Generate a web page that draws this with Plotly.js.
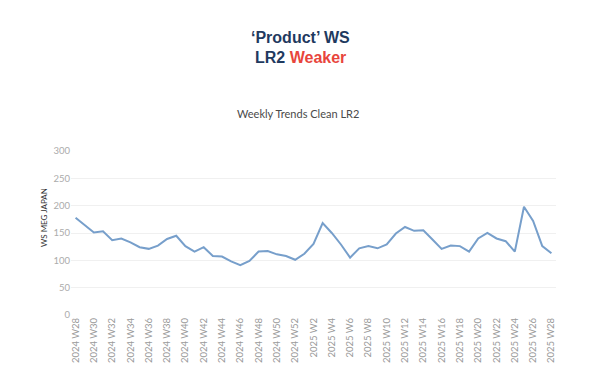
<!DOCTYPE html>
<html>
<head>
<meta charset="utf-8">
<script src="https://cdn.plot.ly/plotly-3.0.1.min.js"></script>
<style>html,body{margin:0;padding:0;background:#fff;}#chart{width:594px;height:386px;}</style>
</head>
<body>
<div id="chart"></div>
<script>
const weeks = [
  "2024 W28","2024 W29","2024 W30","2024 W31","2024 W32","2024 W33","2024 W34","2024 W35","2024 W36","2024 W37",
  "2024 W38","2024 W39","2024 W40","2024 W41","2024 W42","2024 W43","2024 W44","2024 W45","2024 W46","2024 W47",
  "2024 W48","2024 W49","2024 W50","2024 W51","2024 W52",
  "2025 W1","2025 W2","2025 W3","2025 W4","2025 W5","2025 W6","2025 W7","2025 W8","2025 W9","2025 W10",
  "2025 W11","2025 W12","2025 W13","2025 W14","2025 W15","2025 W16","2025 W17","2025 W18","2025 W19","2025 W20",
  "2025 W21","2025 W22","2025 W23","2025 W24","2025 W25","2025 W26","2025 W27","2025 W28"
];
const wsValues = [
  178, 165, 151, 153, 137, 140, 133, 124, 121, 127,
  139, 145, 126, 116, 124, 108, 107, 98, 91, 99,
  116, 117, 111, 108, 101,
  112, 130, 168, 150, 129, 105, 122, 126, 122, 129,
  149, 161, 154, 155, 138, 121, 127, 126, 116, 140,
  150, 140, 135, 116, 198, 172, 126, 113
];
const tickLabels = weeks.filter((w, i) => i % 2 === 0);
const yTicks = [0, 50, 100, 150, 200, 250, 300];

const plotTop = 151, plotBottom = 315, plotH = plotBottom - plotTop;
function py(px) { return (plotBottom - px) / plotH; }

const trace = {
  x: weeks,
  y: wsValues,
  type: 'scatter',
  mode: 'lines',
  line: {color: '#779fcb', width: 2},
  hoverinfo: 'x+y'
};

const layout = {
  width: 594,
  height: 386,
  paper_bgcolor: '#ffffff',
  plot_bgcolor: '#ffffff',
  margin: {l: 71, r: 38, t: plotTop, b: 386 - plotBottom, pad: 0},
  showlegend: false,
  font: {family: 'Lato, "Open Sans", sans-serif', color: '#999'},
  xaxis: {
    type: 'category',
    range: [-0.5, weeks.length - 0.5],
    tickmode: 'array',
    tickvals: tickLabels,
    ticktext: tickLabels,
    tickangle: -90,
    tickfont: {family: 'Lato, sans-serif', size: 9.5, color: '#9a9a9a'},
    showgrid: false,
    zeroline: false,
    showline: false,
    ticks: '',
    fixedrange: true
  },
  yaxis: {
    range: [0, 300],
    tickmode: 'array',
    tickvals: yTicks,
    ticktext: yTicks.map(String),
    tickfont: {family: 'Lato, sans-serif', size: 9.5, color: '#ababab'},
    showgrid: true,
    gridcolor: '#f0f0f0',
    gridwidth: 1,
    zeroline: false,
    showline: false,
    ticks: '',
    ticklabelstandoff: 0,
    fixedrange: true
  },
  annotations: [
    {
      text: '<b>‘Product’ WS</b>',
      xref: 'paper', yref: 'paper', x: (300 - 71) / 485, y: py(37),
      xanchor: 'center', yanchor: 'middle', showarrow: false,
      font: {family: '"Liberation Sans", Arial, sans-serif', size: 16, color: '#1f3a5f'}
    },
    {
      text: '<b>LR2 <span style="color:#e8453c">Weaker</span></b>',
      xref: 'paper', yref: 'paper', x: (300 - 71) / 485, y: py(58),
      xanchor: 'center', yanchor: 'middle', showarrow: false,
      font: {family: '"Liberation Sans", Arial, sans-serif', size: 16, color: '#1f3a5f'}
    },
    {
      text: 'Weekly Trends Clean LR2',
      xref: 'paper', yref: 'paper', x: (298 - 71) / 485, y: py(113),
      xanchor: 'center', yanchor: 'middle', showarrow: false,
      font: {family: 'Lato, "Open Sans", sans-serif', size: 11, color: '#4a4a4a'}
    },
    {
      text: 'WS MEG JAPAN',
      xref: 'paper', yref: 'paper', x: (44 - 71) / 485, y: py(218),
      xanchor: 'center', yanchor: 'middle', showarrow: false, textangle: -90,
      font: {family: 'Lato, "Open Sans", sans-serif', size: 8, color: '#333333'}
    }
  ]
};

Plotly.newPlot('chart', [trace], layout, {displayModeBar: false, staticPlot: false});
</script>
</body>
</html>
